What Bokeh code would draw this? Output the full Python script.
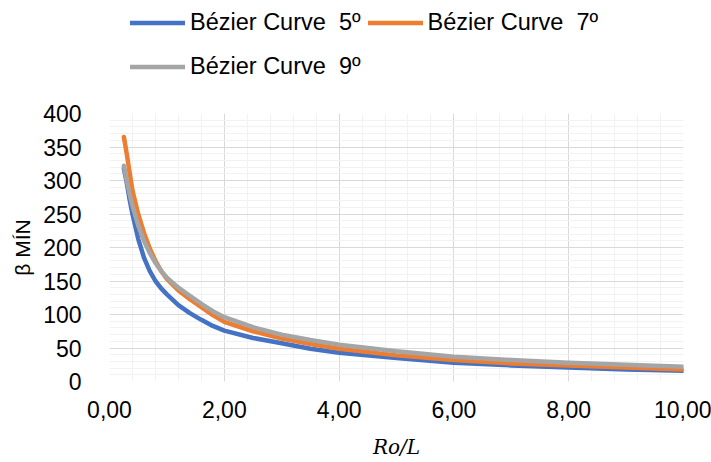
from bokeh.plotting import figure
from bokeh.layouts import column
from bokeh.models import Range1d, FixedTicker, Legend, LegendItem
from bokeh.embed import file_html
from bokeh.resources import INLINE

# ---- data ----
ro_l = [0.25, 0.3, 0.35, 0.4, 0.5, 0.6, 0.7, 0.8, 0.9, 1.0, 1.2, 1.4, 1.6, 1.8,
        2.0, 2.5, 3.0, 3.5, 4.0, 5.0, 6.0, 7.0, 8.0, 9.0, 10.0]
bezier_5 = [318, 297, 272, 250, 213, 185, 165, 150, 139, 130, 114, 102, 92, 83,
            76, 65, 57, 49, 43, 35, 28, 24, 21, 18, 16]
bezier_7 = [365, 340, 312, 285, 250, 222, 199, 180, 165, 153, 136, 123, 111, 99,
            89, 75, 64, 56, 49, 39, 32, 27, 24, 21, 18]
bezier_9 = [322, 300, 280, 262, 233, 210, 192, 177, 165, 155, 140, 128, 116, 105,
            96, 81, 70, 62, 55, 45, 37, 32, 28, 25, 22]
series_names = ["Bézier Curve\u00a0 5º", "Bézier Curve\u00a0 7º", "Bézier Curve\u00a0 9º"]
series_colors = ["#4472C4", "#ED7D31", "#A5A5A5"]

x_ticks = [0, 2, 4, 6, 8, 10]
x_tick_labels = ["0,00", "2,00", "4,00", "6,00", "8,00", "10,00"]
x_minor = [0.4 * i for i in range(26)]
y_ticks = [0, 50, 100, 150, 200, 250, 300, 350, 400]
y_minor = list(range(0, 401, 10))

FONT = "Liberation Sans"
LW = 4.5

# ---- main chart ----
p = figure(width=711, height=361, output_backend="svg", toolbar_location=None,
           x_range=Range1d(0, 10), y_range=Range1d(0, 400),
           min_border_left=109, min_border_right=28, min_border_top=12,
           min_border_bottom=81)
p.outline_line_color = None
p.background_fill_color = "white"
p.border_fill_color = "white"

p.xaxis.ticker = FixedTicker(ticks=x_ticks, minor_ticks=x_minor)
p.yaxis.ticker = FixedTicker(ticks=y_ticks, minor_ticks=y_minor)
p.xaxis.major_label_overrides = {t: l for t, l in zip(x_ticks, x_tick_labels)}

for ax in (p.xaxis, p.yaxis):
    ax.axis_line_color = None
    ax.major_tick_line_color = None
    ax.minor_tick_line_color = None
    ax.major_label_text_font = FONT
    ax.major_label_text_font_size = "23px"
    ax.major_label_text_color = "#000000"

p.xaxis.major_label_standoff = 13
p.yaxis.major_label_standoff = 22
p.xaxis.axis_label = "Ro/L"
p.xaxis.axis_label_text_font = "DejaVu Serif"
p.xaxis.axis_label_text_font_style = "italic"
p.xaxis.axis_label_text_font_size = "20px"
p.xaxis.axis_label_text_color = "#000000"
p.xaxis.axis_label_standoff = 14
p.yaxis.axis_label = "β MÍN"
p.yaxis.axis_label_text_font = FONT
p.yaxis.axis_label_text_font_style = "normal"
p.yaxis.axis_label_text_font_size = "21px"
p.yaxis.axis_label_text_color = "#000000"
p.yaxis.axis_label_standoff = 6

for g in (p.xgrid, p.ygrid):
    g.grid_line_color = "#D9D9D9"
    g.grid_line_width = 1
    g.minor_grid_line_color = "#F2F2F2"
    g.minor_grid_line_width = 1

for ys, col in zip([bezier_5, bezier_7, bezier_9], series_colors):
    p.line(ro_l, ys, line_color=col, line_width=LW,
           line_join="round", line_cap="round")

# ---- legend strip above the chart ----
lf = figure(width=711, height=101, output_backend="svg", toolbar_location=None,
            x_range=Range1d(100, 101), y_range=Range1d(0, 1),
            x_axis_location=None, y_axis_location=None,
            min_border_left=0, min_border_right=0, min_border_top=0,
            min_border_bottom=0)
lf.outline_line_color = None
lf.xgrid.visible = False
lf.ygrid.visible = False
legend_renderers = []
for ys, col in zip([bezier_5, bezier_7, bezier_9], series_colors):
    legend_renderers.append(lf.line(ro_l, ys, line_color=col, line_width=LW,
                                    line_join="round", line_cap="round"))

legend = Legend(items=[LegendItem(label=n, renderers=[r])
                       for n, r in zip(series_names, legend_renderers)],
                location=(21, 16), orientation="horizontal", ncols=2,
                label_text_font=FONT, label_text_font_size="23.5px",
                label_text_color="#000000", glyph_width=55, glyph_height=37,
                label_height=37, label_standoff=5, spacing=7, padding=0,
                margin=0, border_line_color=None, background_fill_alpha=0)
lf.add_layout(legend, "center")

layout = column(lf, p)
open("out.html", "w").write(file_html(layout, INLINE))
